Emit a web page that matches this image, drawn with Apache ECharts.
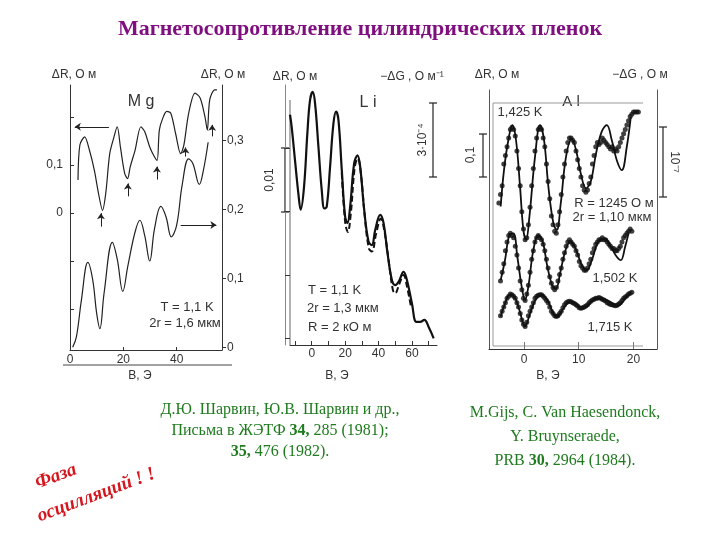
<!DOCTYPE html>
<html>
<head>
<meta charset="utf-8">
<script src="https://cdn.jsdelivr.net/npm/echarts@6/dist/echarts.min.js"></script>
<style>html,body{margin:0;background:#fff}#main{width:720px;height:540px}</style>
</head>
<body>
<div id="main"></div>
<script>
// ---- данные ----
// Mg: верхняя кривая (левая ось), нижняя кривая (правая ось)
var mgTop = [[3.0,0.069],[3.7,0.142],[5.5,0.159],[7.3,0.131],[9.1,0.090],[10.7,0.041],[12.2,0.006],[13.4,0.041],[14.9,0.124],[16.5,0.159],[17.7,0.180],[18.9,0.138],[20.5,0.083],[21.6,0.072],[22.6,0.097],[24.4,0.131],[26.6,0.180],[28.0,0.170],[29.9,0.138],[31.7,0.117],[32.7,0.110],[33.5,0.173],[34.8,0.198],[36.3,0.212],[37.8,0.208],[39.6,0.166],[41.5,0.124],[42.7,0.142],[44.5,0.208],[46.9,0.250],[48.8,0.240],[50.6,0.201],[51.5,0.173],[52.4,0.236],[54.3,0.257],[55.1,0.257]];
var mgBottom = [[1.0,0.0],[2.4,0.015],[4.3,0.069],[6.7,0.123],[8.5,0.098],[10.0,0.049],[11.2,0.027],[12.8,0.079],[15.9,0.152],[17.7,0.128],[19.8,0.081],[21.7,0.118],[24.4,0.167],[26.2,0.184],[28.0,0.162],[29.9,0.125],[31.7,0.172],[34.1,0.204],[36.0,0.189],[38.0,0.160],[40.0,0.177],[42.1,0.236],[44.5,0.273],[46.1,0.266],[48.5,0.236],[50.0,0.256],[51.8,0.297]];
var mgArrowsLeft = [[[14.6,0.180],[1.8,0.180]],[[11.6,-0.028],[11.6,0.0]],[[21.7,0.035],[21.7,0.062]],[[32.6,0.070],[32.6,0.097]],[[43.3,0.118],[43.3,0.137]],[[53.3,0.160],[53.3,0.184]]];
var mgArrowsRight = [[[41.5,0.177],[54.9,0.177]]];

// Li: сплошная и штриховая
var liSolid = [[-13,0.0353],[-12,0.0334],[-10,0.0281],[-8,0.0229],[-6.6,0.0203],[-4.6,0.0239],[-2.6,0.0324],[-1,0.0376],[0.6,0.0389],[2,0.0371],[4,0.0303],[6,0.0234],[7.6,0.0205],[9,0.0208],[11,0.0271],[13,0.0339],[14.6,0.0358],[16,0.0345],[18,0.0266],[20,0.0192],[21.4,0.0182],[23,0.0208],[25.4,0.0276],[27.4,0.0289],[29,0.0271],[31.4,0.0203],[34,0.0153],[36,0.0147],[38,0.0171],[41,0.0195],[43,0.0182],[45.4,0.0134],[48,0.0092],[50,0.0084],[52,0.0089],[55,0.0105],[57,0.0092],[60,0.0055],[62.6,0.0026],[65,0.0026],[67.4,0.0029],[70,0.0018],[73,0.0]];
var liDashed = [[18,0.0261],[20,0.0184],[21.6,0.0168],[23.4,0.0197],[25.8,0.0271],[27.6,0.0284],[29.4,0.0261],[31.8,0.0192],[34.2,0.0142],[36,0.0137],[38.6,0.0166],[41.4,0.0189],[43.4,0.0171],[46,0.0124],[48.6,0.0076],[50,0.0071],[52.2,0.0084],[55,0.0100],[57,0.0082],[59.4,0.005]];

// Al: теория (линии) и эксперимент (точки) для трех температур
var al1425 = [[-4.27,0.322],[-3.66,0.406],[-2.87,0.475],[-2.13,0.510],[-1.46,0.475],[-0.73,0.368],[-0.12,0.268],[0.37,0.245],[0.98,0.298],[2.01,0.437],[2.93,0.510],[3.66,0.475],[4.45,0.368],[5.37,0.283],[5.98,0.268],[6.71,0.329],[7.68,0.437],[8.72,0.478],[9.51,0.452],[10.37,0.398],[11.34,0.364],[12.2,0.380],[13.17,0.445],[14.2,0.495],[15.12,0.510],[16.04,0.475],[16.95,0.429],[17.87,0.406],[18.78,0.460],[19.51,0.529]];
var al1502 = [[-4.27,0.152],[-3.48,0.198],[-2.68,0.256],[-1.95,0.260],[-1.22,0.206],[-0.43,0.137],[0.18,0.106],[0.79,0.137],[1.71,0.222],[2.62,0.256],[3.41,0.241],[4.27,0.183],[5.24,0.137],[5.85,0.133],[6.59,0.168],[7.68,0.225],[8.54,0.241],[9.51,0.222],[10.55,0.187],[11.46,0.175],[12.38,0.198],[13.6,0.241],[14.82,0.248],[15.85,0.229],[16.95,0.206],[17.68,0.198],[18.48,0.229],[19.09,0.260]];
var al1715 = [[-4.27,0.068],[-3.48,0.098],[-2.56,0.118],[-1.77,0.114],[-0.85,0.083],[0.18,0.045],[1.1,0.075],[2.2,0.109],[3.23,0.118],[4.27,0.106],[5.37,0.075],[6.1,0.068],[7.2,0.087],[8.41,0.102],[9.51,0.098],[10.55,0.087],[11.46,0.091],[12.68,0.106],[13.9,0.109],[15.12,0.106],[16.22,0.098],[17.07,0.092],[18.05,0.102],[18.78,0.114],[19.51,0.122]];
var alDots1425 = [[-4.6,0.33],[-4.3,0.35],[-4.0,0.37],[-3.7,0.42],[-3.4,0.44],[-3.1,0.46],[-2.8,0.48],[-2.5,0.50],[-2.2,0.505],[-1.9,0.50],[-1.6,0.485],[-1.3,0.45],[-1.0,0.41],[-0.7,0.37],[-0.4,0.31],[-0.1,0.27],[0.2,0.245],[0.5,0.25],[0.8,0.28],[1.1,0.32],[1.4,0.37],[1.7,0.41],[2.0,0.45],[2.3,0.48],[2.6,0.50],[2.9,0.505],[3.2,0.50],[3.5,0.48],[3.8,0.46],[4.1,0.42],[4.4,0.38],[4.7,0.34],[5.0,0.30],[5.3,0.28],[5.6,0.265],[5.9,0.26],[6.2,0.28],[6.5,0.31],[6.8,0.35],[7.1,0.39],[7.4,0.42],[7.7,0.45],[8.0,0.47],[8.3,0.48],[8.6,0.48],[8.9,0.475],[9.2,0.47],[9.5,0.45],[9.8,0.43],[10.1,0.41],[10.4,0.39],[10.7,0.37],[11.0,0.36],[11.3,0.355],[11.6,0.36],[11.9,0.375],[12.2,0.39],[12.5,0.42],[12.8,0.44],[13.1,0.46],[13.4,0.47],[13.7,0.465],[14.0,0.47],[14.3,0.48],[14.6,0.475],[14.9,0.47],[15.2,0.465],[15.5,0.46],[15.8,0.455],[16.1,0.46],[16.4,0.45],[16.7,0.455],[17.0,0.45],[17.3,0.46],[17.6,0.47],[17.9,0.48],[18.2,0.49],[18.5,0.50],[18.8,0.51],[19.1,0.52],[19.4,0.53],[19.7,0.535],[20.0,0.54],[20.3,0.54],[20.6,0.54],[20.9,0.54]];
var alDots1502 = [[-4.3,0.15],[-4.0,0.17],[-3.7,0.19],[-3.4,0.22],[-3.1,0.24],[-2.8,0.255],[-2.5,0.26],[-2.2,0.255],[-1.9,0.25],[-1.6,0.23],[-1.3,0.21],[-1.0,0.18],[-0.7,0.15],[-0.4,0.13],[-0.1,0.11],[0.2,0.105],[0.5,0.12],[0.8,0.14],[1.1,0.17],[1.4,0.20],[1.7,0.22],[2.0,0.24],[2.3,0.25],[2.6,0.255],[2.9,0.25],[3.2,0.245],[3.5,0.235],[3.8,0.22],[4.1,0.20],[4.4,0.18],[4.7,0.16],[5.0,0.145],[5.3,0.135],[5.6,0.13],[5.9,0.135],[6.2,0.15],[6.5,0.165],[6.8,0.18],[7.1,0.20],[7.4,0.215],[7.7,0.23],[8.0,0.24],[8.3,0.245],[8.6,0.24],[8.9,0.235],[9.2,0.23],[9.5,0.22],[9.8,0.21],[10.1,0.195],[10.4,0.185],[10.7,0.18],[11.0,0.175],[11.3,0.175],[11.6,0.18],[11.9,0.19],[12.2,0.20],[12.5,0.215],[12.8,0.225],[13.1,0.235],[13.4,0.24],[13.7,0.245],[14.0,0.245],[14.3,0.25],[14.6,0.245],[14.9,0.245],[15.2,0.24],[15.5,0.235],[15.8,0.23],[16.1,0.225],[16.4,0.225],[16.7,0.22],[17.0,0.22],[17.3,0.225],[17.6,0.23],[17.9,0.24],[18.2,0.25],[18.5,0.255],[18.8,0.26],[19.1,0.265],[19.4,0.27],[19.7,0.265]];
var alDots1715 = [[-4.3,0.07],[-4.0,0.08],[-3.7,0.09],[-3.4,0.10],[-3.1,0.11],[-2.8,0.115],[-2.5,0.12],[-2.2,0.118],[-1.9,0.115],[-1.6,0.11],[-1.3,0.10],[-1.0,0.09],[-0.7,0.075],[-0.4,0.06],[-0.1,0.05],[0.2,0.045],[0.5,0.055],[0.8,0.07],[1.1,0.08],[1.4,0.09],[1.7,0.10],[2.0,0.11],[2.3,0.115],[2.6,0.117],[2.9,0.118],[3.2,0.118],[3.5,0.115],[3.8,0.11],[4.1,0.105],[4.4,0.10],[4.7,0.09],[5.0,0.08],[5.3,0.075],[5.6,0.07],[5.9,0.068],[6.2,0.07],[6.5,0.075],[6.8,0.08],[7.1,0.088],[7.4,0.095],[7.7,0.10],[8.0,0.102],[8.3,0.103],[8.6,0.102],[8.9,0.10],[9.2,0.098],[9.5,0.095],[9.8,0.092],[10.1,0.088],[10.4,0.087],[10.7,0.088],[11.0,0.09],[11.3,0.092],[11.6,0.095],[11.9,0.10],[12.2,0.103],[12.5,0.106],[12.8,0.108],[13.1,0.11],[13.4,0.11],[13.7,0.112],[14.0,0.11],[14.3,0.108],[14.6,0.106],[14.9,0.104],[15.2,0.10],[15.5,0.098],[15.8,0.096],[16.1,0.095],[16.4,0.094],[16.7,0.093],[17.0,0.094],[17.3,0.097],[17.6,0.10],[17.9,0.105],[18.2,0.11],[18.5,0.113],[18.8,0.116],[19.1,0.12],[19.4,0.122],[19.7,0.124]];

// подписи делений
var mgXTicks = [0, 20, 40];
var mgLeftTicks = [0, 0.1];
var mgRightTicks = [0, 0.1, 0.2, 0.3];
var liXTicks = [0, 20, 40, 60];
var liXMinor = [-10, 0, 10, 20, 30, 40, 50, 60, 70];
var liYTicks = [0, 0.01, 0.02, 0.03];
var alXTicks = [0, 10, 20];

var SANS = '"Liberation Sans", Arial, sans-serif';
var SERIF = '"Liberation Serif", "Times New Roman", serif';
var INK = '#222';
var GREEN = '#1e7b1e';

function comma(v){ return v === 0 ? '0' : String(v).replace('.', ','); }

function txt(x, y, s, size, opt){
	opt = opt || {};
	return {type:'text', x:x, y:y, rotation:opt.rot || 0, silent:true,
		style:{text:s, font:(opt.weight || '') + ' ' + size + 'px ' + (opt.family || SANS),
			fill:opt.color || '#333', align:opt.align || 'center', verticalAlign:'middle'}};
}
// строка ссылки с жирным номером тома
function ref(x, y, s){
	return {type:'text', x:x, y:y, silent:true, style:{text:s, align:'center', verticalAlign:'middle',
		rich:{n:{font:'16px ' + SERIF, fill:GREEN}, b:{font:'bold 16px ' + SERIF, fill:GREEN}}}};
}
function seg(x1, y1, x2, y2, color, w){
	return {type:'line', silent:true, shape:{x1:x1, y1:y1, x2:x2, y2:y2}, style:{stroke:color || INK, lineWidth:w || 1}};
}
// масштабная линейка с засечками
function bar(x, y1, y2){
	return [seg(x, y1, x, y2, INK, 1.2), seg(x - 4, y1, x + 4, y1, INK, 1.2), seg(x - 4, y2, x + 4, y2, INK, 1.2)];
}
function arrows(list){
	return {silent:true, symbol:['none','arrow'], symbolSize:6, animation:false,
		lineStyle:{color:INK, width:1, type:'solid'}, label:{show:false},
		data:list.map(function(a){ return [{coord:a[0]}, {coord:a[1]}]; })};
}

var axLabel = {color:'#333', fontFamily:SANS, fontSize:12};

var graphic = [
	txt(360, 29, 'Магнетосопротивление цилиндрических пленок', 22, {weight:'bold', family:SERIF, color:'#7f0f7f'}),
	// Mg
	txt(74, 75, 'ΔR, О м', 12), txt(223, 75, 'ΔR, О м', 12),
	txt(141, 102, 'M g', 16),
	txt(187, 307, 'T = 1,1 K', 13), txt(185, 323, '2r = 1,6 мкм', 13),
	txt(140, 376, 'B, Э', 12),
	seg(63, 365, 232, 365, '#444', 1),
	// Li
	txt(295, 77, 'ΔR, О м', 12), txt(412, 77, '−ΔG , О м⁻¹', 12),
	txt(368, 103, 'L i', 16),
	txt(308, 290, 'T = 1,1 K', 13, {align:'left'}), txt(307, 308, '2r = 1,3 мкм', 13, {align:'left'}), txt(308, 327, 'R = 2 кО м', 13, {align:'left'}),
	txt(337, 376, 'B, Э', 12),
	txt(270, 180, '0,01', 12, {rot:Math.PI / 2}), txt(423, 140, '3·10⁻⁴', 12, {rot:Math.PI / 2}),
	seg(290, 100, 290, 345, '#666', 1),
	// Al
	txt(497, 75, 'ΔR, О м', 12), txt(640, 75, '−ΔG , О м', 12),
	txt(571, 102, 'А l', 15),
	txt(520, 112, '1,425 K', 13), txt(614, 203, 'R = 1245 О м', 13), txt(612, 217, '2r = 1,10 мкм', 13),
	txt(615, 278, '1,502 K', 13), txt(610, 327, '1,715 K', 13),
	txt(548, 376, 'B, Э', 12),
	txt(471, 155, '0,1', 12, {rot:Math.PI / 2}), txt(674, 162, '10⁻⁷', 12, {rot:-Math.PI / 2}),
	{type:'polyline', silent:true, shape:{points:[[643, 103], [493, 103], [493, 346], [643, 346]]}, style:{fill:'none', stroke:'#999', lineWidth:1}},
	// ссылки
	txt(280, 410, 'Д.Ю. Шарвин, Ю.В. Шарвин и др.,', 16, {family:SERIF, color:GREEN}),
	ref(280, 431, '{n|Письма в ЖЭТФ }{b|34,}{n| 285 (1981);}'),
	ref(280, 452, '{b|35,}{n| 476 (1982).}'),
	txt(565, 413, 'M.Gijs, C. Van Haesendonck,', 16, {family:SERIF, color:GREEN}),
	txt(565, 437, 'Y. Bruynseraede,', 16, {family:SERIF, color:GREEN}),
	ref(565, 461, '{n|PRB }{b|30,}{n| 2964 (1984).}'),
	txt(36, 484, 'Фаза', 19, {weight:'italic bold', family:SERIF, color:'#d4161e', align:'left', rot:0.36}),
	txt(38, 517, 'осцилляций ! !', 19, {weight:'italic bold', family:SERIF, color:'#d4161e', align:'left', rot:0.36})
].concat(bar(285, 148, 212), bar(433, 103, 177), bar(483, 134, 177), bar(663, 127, 197));

var option = {
	animation:false,
	backgroundColor:'#fff',
	graphic:graphic,
	grid:[
		{left:70, top:85, width:152, height:265},
		{left:290, top:85, width:147, height:260},
		{left:489, top:90, width:168, height:259}
	],
	xAxis:[
		{gridIndex:0, type:'value', min:0, max:57, splitLine:{show:false},
			axisLine:{onZero:false, lineStyle:{color:'#333'}}, axisTick:{customValues:mgXTicks, inside:true, length:3},
			axisLabel:Object.assign({customValues:mgXTicks, margin:4}, axLabel)},
		{gridIndex:1, type:'value', min:-13, max:75, splitLine:{show:false},
			axisLine:{onZero:false, lineStyle:{color:'#333'}}, axisTick:{customValues:liXMinor, inside:true, length:4},
			axisLabel:Object.assign({customValues:liXTicks, margin:3}, axLabel)},
		{gridIndex:2, type:'value', min:-6.4, max:24.3, splitLine:{show:false},
			axisLine:{onZero:false, lineStyle:{color:'#333'}}, axisTick:{customValues:alXTicks, inside:true, length:7, lineStyle:{color:'#777'}},
			axisLabel:Object.assign({customValues:alXTicks, margin:5}, axLabel)}
	],
	yAxis:[
		{gridIndex:0, type:'value', min:-0.285, max:0.267, splitLine:{show:false},
			axisLine:{show:true, onZero:false, lineStyle:{color:'#333'}}, axisTick:{customValues:[-0.2,-0.1,0,0.1,0.2], inside:true, length:4},
			axisLabel:Object.assign({customValues:mgLeftTicks, formatter:comma, margin:7}, axLabel)},
		{gridIndex:0, type:'value', position:'right', min:-0.004, max:0.38, splitLine:{show:false},
			axisLine:{show:true, onZero:false, lineStyle:{color:'#333'}}, axisTick:{customValues:mgRightTicks, length:4},
			axisLabel:Object.assign({customValues:mgRightTicks, formatter:comma, margin:5}, axLabel)},
		{gridIndex:1, type:'value', min:-0.00106, max:0.04, offset:5, splitLine:{show:false},
			axisLine:{show:true, onZero:false, lineStyle:{color:'#888'}}, axisTick:{customValues:liYTicks, inside:true, length:5, lineStyle:{color:'#333'}},
			axisLabel:{show:false}},
		{gridIndex:2, type:'value', min:-0.007, max:0.591, splitLine:{show:false},
			axisLine:{show:true, onZero:false, lineStyle:{color:'#555'}}, axisTick:{show:false}, axisLabel:{show:false}},
		{gridIndex:2, type:'value', position:'right', min:-0.007, max:0.591, splitLine:{show:false},
			axisLine:{show:true, onZero:false, lineStyle:{color:'#555'}}, axisTick:{show:false}, axisLabel:{show:false}}
	],
	series:[
		{type:'line', xAxisIndex:0, yAxisIndex:0, data:mgTop, smooth:0.3, showSymbol:false,
			lineStyle:{color:INK, width:1.2}, markLine:arrows(mgArrowsLeft)},
		{type:'line', xAxisIndex:0, yAxisIndex:1, data:mgBottom, smooth:0.4, showSymbol:false,
			lineStyle:{color:INK, width:1.2}, markLine:arrows(mgArrowsRight)},
		{type:'line', xAxisIndex:1, yAxisIndex:2, data:liSolid, smooth:0.4, showSymbol:false,
			lineStyle:{color:'#111', width:2.2}},
		{type:'line', xAxisIndex:1, yAxisIndex:2, data:liDashed, smooth:0.4, showSymbol:false,
			lineStyle:{color:'#111', width:2, type:[6, 3]}},
		{type:'line', xAxisIndex:2, yAxisIndex:3, data:al1425, smooth:0.4, showSymbol:false, lineStyle:{color:'#111', width:1.8}},
		{type:'line', xAxisIndex:2, yAxisIndex:3, data:al1502, smooth:0.4, showSymbol:false, lineStyle:{color:'#111', width:1.8}},
		{type:'line', xAxisIndex:2, yAxisIndex:3, data:al1715, smooth:0.4, showSymbol:false, lineStyle:{color:'#111', width:1.8}},
		{type:'scatter', xAxisIndex:2, yAxisIndex:3, data:alDots1425, symbolSize:5, itemStyle:{color:'#111'}},
		{type:'scatter', xAxisIndex:2, yAxisIndex:3, data:alDots1502, symbolSize:5, itemStyle:{color:'#111'}},
		{type:'scatter', xAxisIndex:2, yAxisIndex:3, data:alDots1715, symbolSize:5, itemStyle:{color:'#111'}}
	]
};

echarts.init(document.getElementById('main')).setOption(option);
</script>
</body>
</html>
